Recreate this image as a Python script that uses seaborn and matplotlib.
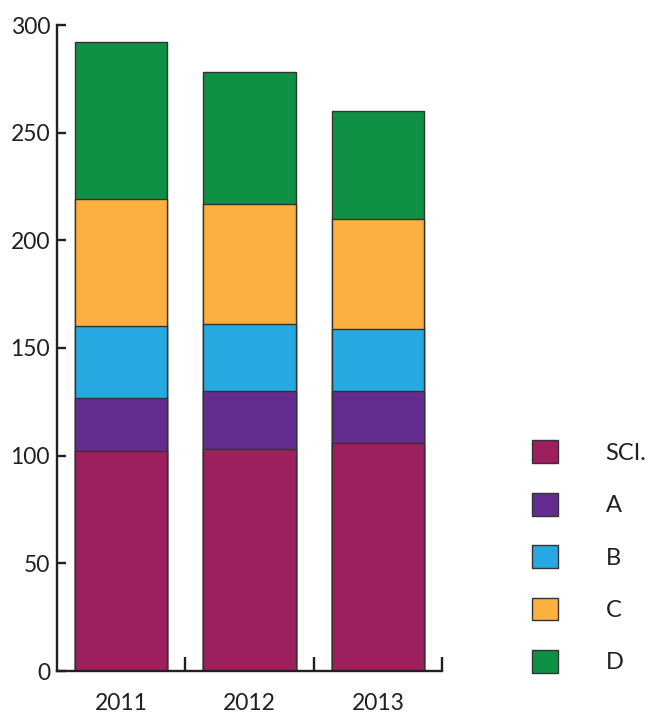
import matplotlib
matplotlib.use("Agg")
import matplotlib.pyplot as plt
from matplotlib.patches import Patch
import seaborn as sns
import pandas as pd
import numpy as np

years = ["2011", "2012", "2013"]
series = ["SCI.", "A", "B", "C", "D"]
sci = [102, 103, 106]
a = [25, 27, 24]
b = [33, 31, 29]
c = [59, 56, 51]
d = [73, 61, 50]
colors = ["#9E1F5E", "#652C90", "#25A9E0", "#FBB040", "#0F9145"]

sns.set_style("white")
plt.rcParams["font.family"] = ["Lato", "DejaVu Sans"]
ink = "#231F20"

values = np.array([sci, a, b, c, d])
cum = values.cumsum(axis=0)

fig = plt.figure(figsize=(6.51, 7.15), dpi=100)
ax = fig.add_axes([57 / 651, 1 - 671 / 715, (442 - 57) / 651, (671 - 25) / 715])

# stacked bars: draw cumulative totals from the top segment down
for i in range(len(series) - 1, -1, -1):
    df = pd.DataFrame({"year": years, "value": cum[i]})
    sns.barplot(data=df, x="year", y="value", order=years, color=colors[i],
                width=0.72, edgecolor="#333333", linewidth=1.0, saturation=1,
                ax=ax)

ax.set_xlim(-0.5, 2.5)
ax.set_ylim(0, 300)
ax.set_yticks([0, 50, 100, 150, 200, 250, 300])
ax.set_xlabel("")
ax.set_ylabel("")

for side in ["top", "right"]:
    ax.spines[side].set_visible(False)
for side in ["left", "bottom"]:
    ax.spines[side].set_color(ink)
    ax.spines[side].set_linewidth(1.7)

ax.tick_params(axis="y", direction="in", length=6.5, width=1.7, color=ink,
               labelsize=16.5, labelcolor=ink, pad=5, left=True)
ax.tick_params(axis="x", which="major", length=0, labelsize=16.5,
               labelcolor=ink, pad=16)
ax.set_xticks([0.5, 1.5, 2.5], minor=True)
ax.tick_params(axis="x", which="minor", direction="in", length=10,
               width=1.7, color=ink, bottom=True)

handles = [Patch(facecolor=col, edgecolor="#333333", linewidth=1.0, label=s)
           for s, col in zip(series, colors)]
leg = fig.legend(handles=handles, loc="upper left",
                 bbox_to_anchor=(523 / 651, 1 - 431 / 715), frameon=False,
                 fontsize=17, handlelength=1.1, handleheight=1.1,
                 labelspacing=1.23, handletextpad=2.0, borderaxespad=0)
for t in leg.get_texts():
    t.set_color(ink)

fig.savefig("out.png", dpi=100)
